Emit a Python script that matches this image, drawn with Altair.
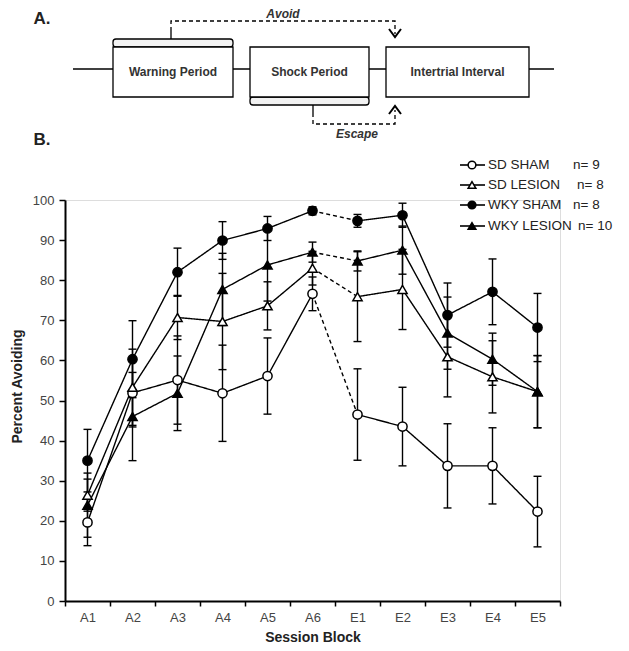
import altair as alt
import pandas as pd

# ---------------- data ----------------
blocks = ["A1", "A2", "A3", "A4", "A5", "A6", "E1", "E2", "E3", "E4", "E5"]
series_names = ["SD SHAM", "SD LESION", "WKY SHAM", "WKY LESION"]
series_n = ["n= 9", "n= 8", "n= 8", "n= 10"]

sd_sham = [19.6, 51.9, 55.1, 51.8, 56.1, 76.6, 46.5, 43.5, 33.7, 33.7, 22.3]
sd_sham_err = [5.8, 8.5, 11.0, 12.0, 9.5, 4.2, 11.4, 9.8, 10.5, 9.5, 8.8]
sd_lesion = [26.4, 53.3, 70.7, 69.7, 73.6, 83.0, 75.9, 77.7, 60.9, 55.9, 52.2]
sd_lesion_err = [4.0, 9.5, 5.5, 12.0, 6.0, 4.2, 11.2, 10.0, 10.0, 9.0, 9.0]
wky_sham = [35.0, 60.3, 82.0, 89.9, 92.9, 97.3, 94.8, 96.2, 71.3, 77.1, 68.2]
wky_sham_err = [7.8, 9.6, 6.0, 4.7, 3.0, 1.0, 1.6, 3.0, 8.0, 8.2, 8.5]
wky_lesion = [23.9, 46.0, 51.8, 77.7, 83.8, 87.0, 84.8, 87.5, 66.8, 60.3, 52.2]
wky_lesion_err = [8.0, 11.0, 9.3, 9.0, 9.0, 2.5, 2.5, 6.0, 9.0, 6.5, 9.0]

all_vals = [sd_sham, sd_lesion, wky_sham, wky_lesion]
all_errs = [sd_sham_err, sd_lesion_err, wky_sham_err, wky_lesion_err]

# schematic (panel A) texts
box_labels = ["Warning Period", "Shock Period", "Intertrial Interval"]
arrow_labels = ["Avoid", "Escape"]
panel_labels = ["A.", "B."]

# ---------------- layout of schematic / legend (page pixels) ----------------
box_x0 = [113, 250, 386]
box_x1 = [233, 369, 529]
box_y0, box_y1 = 47, 97
tab_x0 = [113, 250]
tab_x1 = [233, 369]
tab_y0 = [39, 97]
tab_y1 = [47, 105]
base_x0, base_x1, base_y = 73, 554, 69
arrow_label_x = [283, 357]
arrow_label_y = [14, 134]
panel_label_x = [42, 42]
panel_label_y = [19, 140]
paths = [
    ("avoid_stem", "solid", [171, 171], [39, 31]),
    ("avoid_dash", "dashed", [171, 171, 395, 395], [31, 21, 21, 34]),
    ("esc_stem", "solid", [313, 313], [105, 113]),
    ("esc_dash", "dashed", [313, 313, 395, 395], [113, 124, 124, 110]),
]
heads = [
    ("avoid_head", [389, 395, 401], [29, 37, 29]),
    ("esc_head", [389, 395, 401], [114, 106, 114]),
]
leg_y = [165, 185, 205, 226]
leg_line_x0, leg_line_x1, leg_mark_x, leg_text_x = 460, 485, 472, 488
leg_n_x = [573, 577, 573, 578]

# ---------------- tables ----------------
rows = []
line_rows = []
for name, vals, errs in zip(series_names, all_vals, all_errs):
    for i, (b, v, e) in enumerate(zip(blocks, vals, errs)):
        rows.append(dict(series=name, block=b, value=v, lo=v - e, hi=v + e))
        seg = "acq" if b.startswith("A") else "ext"
        line_rows.append(dict(series=name, block=b, value=v, seg=name + seg, style="solid", ord=i))
    for k in (blocks.index("A6"), blocks.index("E1")):
        line_rows.append(dict(series=name, block=blocks[k], value=vals[k],
                              seg=name + "bridge", style="dashed", ord=k))
df = pd.DataFrame(rows)
ldf = pd.DataFrame(line_rows)

FONT = "Liberation Sans"
x_main = alt.X("block:N", sort=blocks,
               scale=alt.Scale(type="band", domain=blocks, paddingInner=0, paddingOuter=0),
               axis=alt.Axis(title="Session Block", labelAngle=0, tickBand="extent",
                             domainColor="black", domainWidth=2, tickColor="black",
                             tickWidth=1.5, tickSize=5, labelPadding=5, titlePadding=6,
                             labelFontSize=13, labelColor="#444444", titleFontSize=14,
                             titleFontWeight="bold", titleColor="#222222", labelFont=FONT,
                             titleFont=FONT))
y_axis = alt.Axis(title="Percent Avoiding", values=list(range(0, 101, 10)), grid=False,
                  domainColor="black", domainWidth=2, tickColor="black", tickWidth=1.5,
                  tickSize=6, labelPadding=5, labelFontSize=13, labelColor="#444444",
                  titleFontSize=14, titleFontWeight="bold", titleColor="#222222",
                  titleAngle=270, titleX=-48, titleY=186, titleAlign="center",
                  titleBaseline="middle", labelFont=FONT, titleFont=FONT)
y_scale = alt.Scale(domain=[0, 100], nice=False, zero=True)

shape_enc = alt.Shape("series:N", scale=alt.Scale(domain=series_names,
                      range=["circle", "triangle-up", "circle", "triangle-up"]), legend=None)
fill_enc = alt.Fill("series:N", scale=alt.Scale(domain=series_names,
                    range=["white", "white", "black", "black"]), legend=None)
dash_enc = alt.StrokeDash("style:N", scale=alt.Scale(domain=["solid", "dashed"],
                          range=[[1, 0], [4, 3]]), legend=None)

lines = alt.Chart(ldf).mark_line(color="black", strokeWidth=1.4).encode(
    x=x_main, y=alt.Y("value:Q", scale=y_scale, axis=y_axis),
    detail="seg:N", order="ord:Q", strokeDash=dash_enc)
err_rule = alt.Chart(df).mark_rule(color="black", strokeWidth=1.4).encode(
    x=x_main, y=alt.Y("lo:Q", scale=y_scale, axis=y_axis), y2="hi:Q")
cap_lo = alt.Chart(df).mark_tick(color="black", size=8, thickness=1.4, opacity=1).encode(
    x=x_main, y=alt.Y("lo:Q", scale=y_scale, axis=y_axis))
cap_hi = alt.Chart(df).mark_tick(color="black", size=8, thickness=1.4, opacity=1).encode(
    x=x_main, y=alt.Y("hi:Q", scale=y_scale, axis=y_axis))
points = alt.Chart(df).mark_point(stroke="black", strokeWidth=1.5, opacity=1,
                                  fillOpacity=1, size=85).encode(
    x=x_main, y=alt.Y("value:Q", scale=y_scale, axis=y_axis), shape=shape_enc, fill=fill_enc)

main = alt.layer(lines, err_rule, cap_lo, cap_hi, points)

# ---------------- page-coordinate layers ----------------
px = alt.Scale(domain=[0, 629], range=[-65, 564], nice=False, zero=False)
py = alt.Scale(domain=[0, 651], range=[-200, 451], nice=False, zero=False)


def PX(f):
    return alt.X(f, scale=px, axis=None)


def PY(f):
    return alt.Y(f, scale=py, axis=None)


base_df = pd.DataFrame(dict(x0=[base_x0], x1=[base_x1], y=[base_y]))
baseline = alt.Chart(base_df).mark_rule(color="black", strokeWidth=1.3).encode(
    x=PX("x0:Q"), x2="x1:Q", y=PY("y:Q"))

box_df = pd.DataFrame(dict(label=box_labels, x0=box_x0, x1=box_x1,
                           y0=[box_y0] * 3, y1=[box_y1] * 3,
                           xc=[(a + b) / 2 for a, b in zip(box_x0, box_x1)],
                           yc=[(box_y0 + box_y1) / 2] * 3))
tab_df = pd.DataFrame(dict(x0=tab_x0, x1=tab_x1, y0=tab_y0, y1=tab_y1))
tabs = alt.Chart(tab_df).mark_rect(fill="#f2f2f2", stroke="black", strokeWidth=1.3,
                                    cornerRadius=3).encode(
    x=PX("x0:Q"), x2="x1:Q", y=PY("y0:Q"), y2="y1:Q")
boxes = alt.Chart(box_df).mark_rect(fill="white", stroke="black", strokeWidth=1.3).encode(
    x=PX("x0:Q"), x2="x1:Q", y=PY("y0:Q"), y2="y1:Q")
box_text = alt.Chart(box_df).mark_text(font=FONT, fontSize=12, fontWeight="bold",
                                       color="#333333", baseline="middle").encode(
    x=PX("xc:Q"), y=PY("yc:Q"), text="label:N")

path_rows = []
for pid, sty, xs, ys in paths:
    for i, (xx, yy) in enumerate(zip(xs, ys)):
        path_rows.append(dict(pid=pid, style=sty, x=xx, y=yy, o=i))
path_df = pd.DataFrame(path_rows)
path_lines = alt.Chart(path_df).mark_line(color="black", strokeWidth=1.3).encode(
    x=PX("x:Q"), y=PY("y:Q"), detail="pid:N", order="o:Q", strokeDash=dash_enc)
head_rows = []
for pid, xs, ys in heads:
    for i, (xx, yy) in enumerate(zip(xs, ys)):
        head_rows.append(dict(pid=pid, x=xx, y=yy, o=i))
head_df = pd.DataFrame(head_rows)
head_lines = alt.Chart(head_df).mark_line(color="black", strokeWidth=2).encode(
    x=PX("x:Q"), y=PY("y:Q"), detail="pid:N", order="o:Q")

arrow_df = pd.DataFrame(dict(label=arrow_labels, x=arrow_label_x, y=arrow_label_y))
arrow_text = alt.Chart(arrow_df).mark_text(font=FONT, fontSize=12, fontWeight="bold",
                                           fontStyle="italic", color="#333333",
                                           baseline="middle").encode(
    x=PX("x:Q"), y=PY("y:Q"), text="label:N")
panel_df = pd.DataFrame(dict(label=panel_labels, x=panel_label_x, y=panel_label_y))
panel_text = alt.Chart(panel_df).mark_text(font=FONT, fontSize=17, fontWeight="bold",
                                           color="#222222", baseline="middle").encode(
    x=PX("x:Q"), y=PY("y:Q"), text="label:N")

leg_df = pd.DataFrame(dict(series=series_names, n=series_n, y=leg_y,
                           x0=[leg_line_x0] * 4, x1=[leg_line_x1] * 4,
                           xm=[leg_mark_x] * 4, xt=[leg_text_x] * 4, xn=leg_n_x))
leg_rule = alt.Chart(leg_df).mark_rule(color="black", strokeWidth=1.6).encode(
    x=PX("x0:Q"), x2="x1:Q", y=PY("y:Q"))
leg_pts = alt.Chart(leg_df).mark_point(stroke="black", strokeWidth=1.5, opacity=1,
                                       fillOpacity=1, size=60).encode(
    x=PX("xm:Q"), y=PY("y:Q"), shape=shape_enc, fill=fill_enc)
leg_text = alt.Chart(leg_df).mark_text(font=FONT, fontSize=13.5, color="#222222",
                                       align="left", baseline="middle").encode(
    x=PX("xt:Q"), y=PY("y:Q"), text="series:N")
leg_ntext = alt.Chart(leg_df).mark_text(font=FONT, fontSize=13.5, color="#222222",
                                        align="left", baseline="middle").encode(
    x=PX("xn:Q"), y=PY("y:Q"), text="n:N")

page = alt.layer(baseline, tabs, boxes, box_text, path_lines, head_lines, arrow_text,
                 panel_text, leg_rule, leg_pts, leg_text, leg_ntext)

chart = alt.layer(main, page).resolve_scale(x="independent", y="independent").properties(
    width=495, height=401,
    padding={"left": 57, "top": 192, "right": 60, "bottom": 42},
    autosize=alt.AutoSizeParams(type="none"),
).configure_view(stroke=None).configure(font=FONT)

chart.save("out.html", embed_options={"renderer": "svg", "actions": False})
